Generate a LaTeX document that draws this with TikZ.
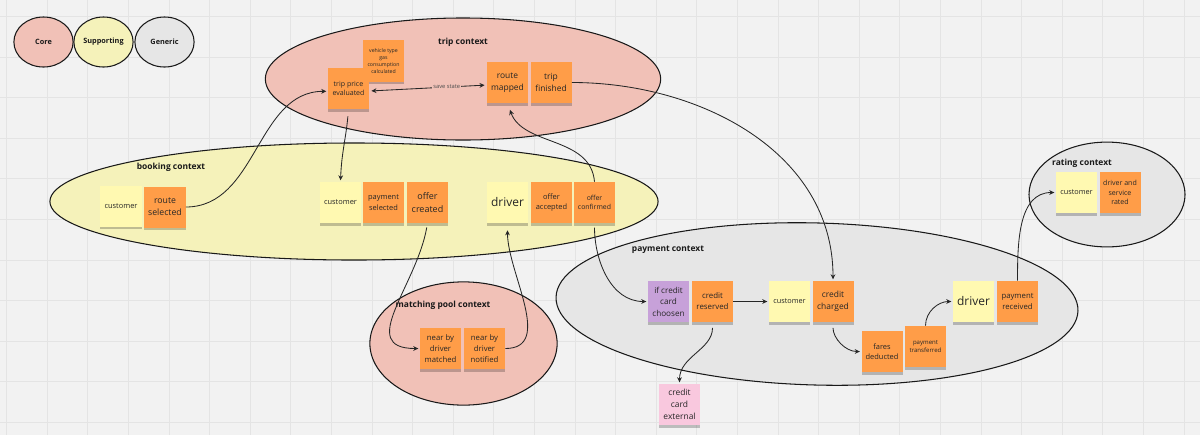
\documentclass[tikz,border=0pt]{standalone}
\usepackage{fontspec}
\setmainfont{Open Sans}
\usepackage{xcolor}
\usepackage{tikz}
\usetikzlibrary{arrows.meta,shadows}

\definecolor{bgfill}{HTML}{F2F2F2}
\definecolor{gridcol}{HTML}{E4E4E4}
\definecolor{corefill}{HTML}{F1C1B7}
\definecolor{suppfill}{HTML}{F5F2BA}
\definecolor{genfill}{HTML}{E6E6E6}
\definecolor{evtfill}{HTML}{FF9D48}
\definecolor{actfill}{HTML}{FFF9B1}
\definecolor{polfill}{HTML}{C7A1D9}
\definecolor{extfill}{HTML}{F9C8DE}

\begin{document}
\begin{tikzpicture}[x=0.025cm, y=-0.025cm,
  ctx/.style={draw=black!90, line width=0.75pt},
  core/.style={ctx, fill=corefill},
  supp/.style={ctx, fill=suppfill},
  gen/.style={ctx, fill=genfill},
  lgd/.style={font=\bfseries\fontsize{5.2}{6}\selectfont, text=black!90},
  ttl/.style={font=\bfseries\fontsize{6}{7}\selectfont, text=black!90},
  fs/.style={font=\fontsize{#1}{\fpeval{1.4*#1}}\selectfont},
  stk/.style={minimum width=1.025cm, minimum height=1.025cm, inner sep=1pt,
    align=center, text=black!85,
    drop shadow={shadow xshift=0pt, shadow yshift=-1.8pt,
      opacity=.22, fill=black}},
  evt/.style={stk, fill=evtfill},
  act/.style={stk, fill=actfill},
  pol/.style={stk, fill=polfill},
  ext/.style={stk, fill=extfill},
  flw/.style={->, >={Stealth[length=3.6pt, width=3.4pt]}, line width=0.6pt,
    black!85, shorten >=1pt},
]
  \useasboundingbox (0,0) rectangle (1200,435);
  % board
  \fill[bgfill] (0,0) rectangle (1200,435);
  \foreach \gx in {0,...,29}
    \draw[gridcol, line width=0.6pt] ({6.6+40.6*\gx},0) -- ({6.6+40.6*\gx},435);
  \foreach \gy in {0,...,10}
    \draw[gridcol, line width=0.6pt] (0,{16.5+40.6*\gy}) -- (1200,{16.5+40.6*\gy});

  % Legend
  \draw[core] (43.5,42) ellipse [x radius=0.74cm, y radius=0.625cm];
  \node[lgd] (lcore) at (43.5,42) {Core};
  \draw[supp] (103.5,42) ellipse [x radius=0.74cm, y radius=0.625cm];
  \node[lgd] (lsupp) at (103.5,42) {Supporting};
  \draw[gen] (164.5,42) ellipse [x radius=0.74cm, y radius=0.625cm];
  \node[lgd] (lgen) at (164.5,42) {Generic};

  % trip context
  \draw[core] (463,79) ellipse [x radius=4.94cm, y radius=1.525cm];
  \node[ttl] (tripttl) at (463,42) {trip context};
  \node[evt, fs=3.7] (vehcalc) at (383.5,61) {vehicle type\\gas\\consumption\\calculated};
  \node[evt, fs=5] (tripprice) at (348.5,88.5) {trip price\\evaluated};
  \node[evt, fs=6] (routemap) at (507.5,82.5) {route\\mapped};
  \node[evt, fs=6] (tripfin) at (551,82.5) {trip\\finished};
  \draw[flw, <->, shorten <=1.5pt, shorten >=1.5pt] ([yshift=-1.8pt]tripprice.east)
    -- node[pos=.66, fill=corefill, inner sep=0.8pt, text=black!70,
      font=\fontsize{4.1}{5}\selectfont] {save state} ([yshift=-1.8pt]routemap.west);

  % booking context
  \draw[supp] (354,201.5) ellipse [x radius=7.6cm, y radius=1.4625cm];
  \node[ttl] (bookttl) at (171,167) {booking context};
  \node[act, fs=5.3] (cust1) at (121,206) {customer};
  \node[evt, fs=6.2] (routesel) at (165,207) {route\\selected};
  \node[act, fs=5.3] (cust2) at (340.5,202.5) {customer};
  \node[evt, fs=5.3] (paysel) at (383.5,202.5) {payment\\selected};
  \node[evt, fs=6.4] (offcreat) at (427.5,202.5) {offer\\created};
  \node[act, fs=8.5] (drv1) at (507.5,202.5) {driver};
  \node[evt, fs=5.3] (offacc) at (551.5,202.5) {offer\\accepted};
  \node[evt, fs=4.9] (offconf) at (594.5,202.5) {offer\\confirmed};

  % matching pool context
  \draw[core] (463.5,343.5) ellipse [x radius=2.34cm, y radius=1.54cm];
  \node[ttl] (matchttl) at (443,305) {matching pool context};
  \node[evt, fs=5.5] (nbmatch) at (440.5,348.5) {near by\\driver\\matched};
  \node[evt, fs=5.5] (nbnotif) at (484.5,348.5) {near by\\driver\\notified};

  % payment context
  \draw[gen, rotate around={-1.5:(817,304)}] (817,304) ellipse [x radius=6.525cm, y radius=2.025cm];
  \node[ttl] (payttl) at (668,250) {payment context};
  \node[pol, fs=5.8] (ifcc) at (668.5,301.5) {if credit\\card\\choosen};
  \node[evt, fs=5.6] (credres) at (712.5,301.5) {credit\\reserved};
  \node[act, fs=5.2] (cust3) at (789.5,301.5) {customer};
  \node[evt, fs=6] (credchg) at (833,301.5) {credit\\charged};
  \node[evt, fs=5.3] (fares) at (882,351.5) {fares\\deducted};
  \node[evt, fs=4.3] (paytrans) at (925.5,346.5) {payment\\transferred};
  \node[act, fs=8.5] (drv2) at (973.5,301.5) {driver};
  \node[evt, fs=5.5] (payrec) at (1017.5,301.5) {payment\\received};
  \node[ext, fs=6] (ccext) at (679.5,404.5) {credit\\card\\external};

  % rating context
  \draw[gen] (1107,194.5) ellipse [x radius=1.95cm, y radius=1.31cm];
  \node[ttl] (ratettl) at (1082,163) {rating context};
  \node[act, fs=5.2] (cust4) at (1076.5,192.5) {customer};
  \node[evt, fs=5] (rated) at (1120,192.5) {driver and\\service\\rated};

  % flows
  \draw[flw] (routesel.east) to[out=0, in=180] ([yshift=-2pt]tripprice.west);
  \draw[flw, shorten <=5pt] (tripprice.south) to[out=-95, in=88] (cust2.north);
  \draw[flw, shorten >=5pt] (offconf.north) to[out=95, in=-70] (routemap.south);
  \draw[flw] (tripfin.east) to[out=0, in=90] (credchg.north);
  \draw[flw, shorten <=3pt] (offcreat.south) to[out=-100, in=180, looseness=1.3] (nbmatch.west);
  \draw[flw, shorten >=5pt] (nbnotif.east) to[out=0, in=-90] (drv1.south);
  \draw[flw, shorten <=3pt] (offconf.south) to[out=-90, in=180] (ifcc.west);
  \draw[flw] (credres.east) -- (cust3.west);
  \draw[flw, shorten <=4pt] (credres.south) to[out=-90, in=90] (ccext.north);
  \draw[flw, shorten <=4pt] (credchg.south) to[out=-90, in=180] (fares.west);
  \draw[flw] (paytrans.north) to[out=90, in=180] (drv2.west);
  \draw[flw] (payrec.north) to[out=90, in=180] (cust4.west);
\end{tikzpicture}
\end{document}
